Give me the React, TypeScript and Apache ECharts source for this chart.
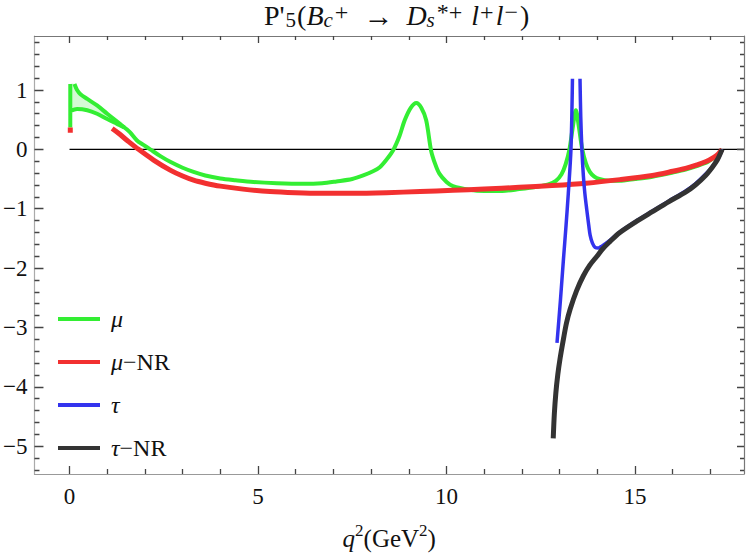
import React, { useEffect, useRef } from "react";
import * as echarts from "echarts";

const FONT = "Liberation Serif";

// axis ranges and ticks
const X_MIN = -0.93;
const X_MAX = 17.89;
const Y_MIN = -5.47;
const Y_MAX = 1.91;
const xMajor = [0, 5, 10, 15];
const xMinor = [1, 2, 3, 4, 6, 7, 8, 9, 11, 12, 13, 14, 16, 17];
const yMajor = [-5, -4, -3, -2, -1, 0, 1];
const yMinor: number[] = [];
for (let k = -27; k <= 9; k++) {
  if (k % 5 !== 0) yMinor.push(Math.round(k * 20) / 100);
}

// μ (green) : clipped stub at q² → 0, then lower branch and main curve
const muStub = [[0.02, 0.37], [0.02, 1.1]];
const muMain = [
  [0.03, 0.65], [0.2, 0.68], [0.47, 0.66], [0.73, 0.6], [1.0, 0.51], [1.26, 0.43], [1.45, 0.37],
  [1.6, 0.29], [1.79, 0.15], [1.95, 0.08], [2.14, 0.0], [2.4, -0.11], [2.67, -0.21], [3.0, -0.31],
  [3.29, -0.38], [3.6, -0.44], [4.0, -0.49], [4.4, -0.52], [4.88, -0.55], [5.5, -0.57], [6.2, -0.58],
  [6.7, -0.57], [7.08, -0.54], [7.5, -0.5], [7.79, -0.44], [8.05, -0.37], [8.23, -0.3], [8.4, -0.18],
  [8.58, -0.02], [8.75, 0.22], [8.89, 0.49], [9.05, 0.7], [9.2, 0.78], [9.33, 0.7], [9.46, 0.49],
  [9.59, -0.02], [9.7, -0.25], [9.81, -0.41], [10.0, -0.55], [10.17, -0.62], [10.61, -0.68],
  [11.0, -0.7], [11.48, -0.7], [11.93, -0.67], [12.4, -0.63], [12.7, -0.59], [12.9, -0.53],
  [13.05, -0.42], [13.16, -0.25], [13.26, 0.0], [13.35, 0.38], [13.43, 0.66], [13.51, 0.38],
  [13.6, 0.0], [13.7, -0.24], [13.8, -0.38], [13.92, -0.46], [14.05, -0.5], [14.3, -0.53],
  [14.58, -0.53], [15.0, -0.5], [15.46, -0.46], [16.0, -0.39], [16.34, -0.34], [16.87, -0.23],
  [17.1, -0.14], [17.22, -0.08], [17.31, 0.0],
];
// μ band at low q² (upper and lower branch)
const bandX = [0.03, 0.13, 0.2, 0.29, 0.47, 0.73, 1.0, 1.26, 1.45];
const bandLow = [0.65, 0.67, 0.68, 0.675, 0.66, 0.6, 0.51, 0.43, 0.37];
const bandHigh = [1.1, 1.1, 1.0, 0.93, 0.85, 0.74, 0.6, 0.47, 0.37];

// μ−NR (red)
const muNRStub = [[0.02, 0.37], [0.02, 0.28]];
const muNRMain = [
  [1.13, 0.35], [1.3, 0.27], [1.53, 0.15], [1.83, 0.0], [2.23, -0.18], [2.67, -0.35], [3.0, -0.45],
  [3.29, -0.52], [3.6, -0.57], [4.0, -0.62], [4.6, -0.67], [5.32, -0.71], [6.0, -0.73], [6.64, -0.74],
  [7.5, -0.74], [8.4, -0.73], [9.3, -0.71], [10.17, -0.69], [11.0, -0.67], [11.93, -0.64],
  [12.8, -0.61], [13.7, -0.57], [14.6, -0.51], [15.46, -0.44], [16.0, -0.37], [16.34, -0.32],
  [16.6, -0.27], [16.87, -0.21], [17.1, -0.13], [17.22, -0.07], [17.31, 0.0],
];

// τ (blue): two branches around the pole
const tauLeft = [
  [12.93, -3.26], [13.02, -2.55], [13.1, -1.86], [13.17, -1.28], [13.23, -0.74], [13.3, 0.0], [13.34, 1.19],
];
const tauRight = [
  [13.54, 1.19], [13.56, 0.55], [13.59, 0.0], [13.63, -0.45], [13.67, -0.75], [13.72, -1.02],
  [13.77, -1.27], [13.81, -1.45], [13.87, -1.58], [13.94, -1.65], [14.03, -1.66], [14.12, -1.63],
  [14.34, -1.53], [14.58, -1.4], [15.0, -1.22], [15.46, -1.04], [15.9, -0.87], [16.34, -0.7],
  [16.6, -0.58], [16.96, -0.36], [17.1, -0.25], [17.22, -0.14], [17.31, 0.0],
];

// τ−NR (black)
const tauNR = [
  [12.83, -4.87], [12.86, -4.45], [12.9, -4.1], [12.95, -3.8], [13.01, -3.53], [13.1, -3.2],
  [13.18, -2.93], [13.28, -2.69], [13.45, -2.38], [13.63, -2.13], [13.8, -1.95], [13.99, -1.8],
  [14.15, -1.67], [14.34, -1.55], [14.58, -1.41], [15.0, -1.23], [15.46, -1.05], [15.9, -0.88],
  [16.34, -0.72], [16.6, -0.6], [16.87, -0.44], [17.05, -0.3], [17.18, -0.18], [17.31, 0.0],
];

const legendNames = ["μ", "μ−NR", "τ", "τ−NR"];
const colors = { mu: "#33ee33", muNR: "#f23030", tau: "#3333ee", tauNR: "#333333" };

const minusFmt = (v: number) => (v < 0 ? "−" + Math.abs(v) : String(v));

const GRID = { left: 34, right: 3, top: 36, bottom: 81 };
const W = 747;
const H = 556;

export default function App() {
  const ref = useRef<HTMLDivElement>(null);
  useEffect(() => {
    if (!ref.current) return;
    const chart = echarts.init(ref.current, undefined, { renderer: "svg" });

    const bandPoly = [
      ...bandX.map((x, i) => [x, bandHigh[i]]),
      ...bandX.map((x, i) => [x, bandLow[i]]).reverse(),
    ];
    const upper = bandX.slice(1).map((x, i) => [x, bandHigh[i + 1]]);

    // tick lengths (px) expressed in axis units; one tick pair per data item
    const pw = W - GRID.left - GRID.right;
    const ph = H - GRID.top - GRID.bottom;
    const ux = (X_MAX - X_MIN) / pw;
    const uy = (Y_MAX - Y_MIN) / ph;
    const tickPairs: number[][][] = [];
    xMajor.concat(xMinor).forEach((v) => {
      const len = xMajor.indexOf(v) >= 0 ? 8 : 5;
      tickPairs.push([[v, Y_MIN], [v, Y_MIN + len * uy]]);
      tickPairs.push([[v, Y_MAX], [v, Y_MAX - (len - 1) * uy]]);
    });
    yMajor.concat(yMinor).forEach((v) => {
      const major = yMajor.indexOf(v) >= 0;
      tickPairs.push([[X_MIN, v], [X_MIN + (major ? 9 : 5) * ux, v]]);
      tickPairs.push([[X_MAX, v], [X_MAX - (major ? 7 : 4) * ux, v]]);
    });

    const xBase = { type: "value", min: X_MIN, max: X_MAX, splitLine: { show: false }, axisTick: { show: false } };
    const yBase = { type: "value", min: Y_MIN, max: Y_MAX, splitLine: { show: false }, axisTick: { show: false } };
    const frame = (color: string) => ({ show: true, onZero: false, lineStyle: { color, width: 1.2 } });

    const lineSeries = (name: string, data: any, color: string, width: number) => ({
      name,
      type: "line",
      data,
      showSymbol: false,
      symbol: "none",
      smooth: 0.3,
      connectNulls: false,
      lineStyle: { color, width, cap: "butt", join: "round" },
      itemStyle: { color },
      silent: true,
    });

    const sub = { fontFamily: FONT, fontSize: 21, lineHeight: 21, color: "#111", verticalAlign: "bottom" };
    const sup = { fontFamily: FONT, fontSize: 24, lineHeight: 24, color: "#111", verticalAlign: "top" };

    const option: any = {
      animation: false,
      backgroundColor: "#fff",
      textStyle: { fontFamily: FONT },
      title: {
        text:
          "{r|P'}{sub|5}{r|(}{i|B}{isub|c}{sup|+}{arr|→}{i|D}{isub|s}{sup|*+}{r| }{i|l}{sup|+}{i|l}{sup|−}{r|)}",
        left: 264,
        top: 0,
        padding: 0,
        textStyle: {
          fontFamily: FONT,
          fontSize: 28,
          fontWeight: "normal",
          color: "#111",
          rich: {
            r: { fontFamily: FONT, fontSize: 28, lineHeight: 30, color: "#111", verticalAlign: "middle" },
            i: { fontFamily: FONT, fontSize: 28, lineHeight: 30, fontStyle: "italic", color: "#111", verticalAlign: "middle" },
            arr: { fontFamily: FONT, fontSize: 30, lineHeight: 30, color: "#111", verticalAlign: "middle", padding: [0, 13, 0, 13] },
            sub: { ...sub, padding: [0, 1, 0, 1] },
            isub: { ...sub, fontStyle: "italic", padding: [0, 1, 0, 0] },
            sup: { ...sup, padding: [0, 2, 0, 1] },
          },
        },
      },
      legend: {
        data: legendNames,
        orient: "vertical",
        left: 53,
        top: 302,
        itemWidth: 42,
        itemHeight: 4,
        itemGap: 19,
        icon: "rect",
        selectedMode: false,
        formatter: (name: string) =>
          name.indexOf("NR") >= 0 ? `{g|${name.charAt(0)}}{n|−NR}` : `{g|${name}}`,
        textStyle: {
          fontFamily: FONT,
          fontSize: 24,
          lineHeight: 24,
          color: "#111",
          padding: [0, 0, 0, 6],
          rich: {
            g: { fontFamily: FONT, fontSize: 24, fontStyle: "italic", color: "#111" },
            n: { fontFamily: FONT, fontSize: 24, color: "#111" },
          },
        },
      },
      grid: { ...GRID, containLabel: false },
      xAxis: [
        {
          ...xBase,
          position: "bottom",
          axisLine: frame("#999"),
          axisLabel: { show: true, customValues: xMajor, fontFamily: FONT, fontSize: 23, color: "#111", margin: 11 },
          name: "{i|q}{sup|2}{r|(GeV}{sup|2}{r|)}",
          nameLocation: "middle",
          nameGap: 48,
          nameTextStyle: {
            fontFamily: FONT,
            fontSize: 24,
            color: "#111",
            rich: {
              i: { fontFamily: FONT, fontSize: 25, lineHeight: 25, fontStyle: "italic", color: "#111", verticalAlign: "bottom" },
              r: { fontFamily: FONT, fontSize: 25, lineHeight: 25, color: "#111", verticalAlign: "bottom" },
              sup: { fontFamily: FONT, fontSize: 17, lineHeight: 29, color: "#111", verticalAlign: "top" },
            },
          },
        },
        {
          ...xBase,
          position: "top",
          axisLine: frame("#777"),
          axisLabel: { show: false },
        },
      ],
      yAxis: [
        {
          ...yBase,
          position: "left",
          axisLine: frame("#aaa"),
          axisLabel: {
            show: true,
            customValues: yMajor,
            fontFamily: FONT,
            fontSize: 23,
            color: "#111",
            margin: 7,
            formatter: minusFmt,
          },
        },
        {
          ...yBase,
          position: "right",
          axisLine: frame("#777"),
          axisLabel: { show: false },
        },
      ],
      series: [
        {
          name: "zero",
          type: "line",
          data: [[0, 0], [X_MAX, 0]],
          symbol: "none",
          lineStyle: { color: "#000", width: 1.4 },
          silent: true,
        },
        {
          name: "frameTicks",
          type: "lines",
          coordinateSystem: "cartesian2d",
          silent: true,
          z: 10,
          data: tickPairs.map((c) => ({ coords: c })),
          lineStyle: { color: "#444", width: 1.3, opacity: 1 },
        },
        {
          name: "band",
          type: "custom",
          silent: true,
          data: bandPoly,
          renderItem: (params: any, api: any) => {
            if (params.dataIndex !== 0) return null;
            const pts = bandPoly.map((p) => api.coord(p));
            return {
              type: "polygon",
              shape: { points: pts, smooth: 0.3 },
              style: { fill: "rgba(60,230,60,0.22)", stroke: "none" },
            };
          },
        },
        lineSeries("μ", [...muStub, null, ...muMain], colors.mu, 4),
        lineSeries("μ", upper, colors.mu, 4),
        lineSeries("μ−NR", [...muNRStub, null, ...muNRMain], colors.muNR, 5),
        lineSeries("τ", [...tauLeft, null, ...tauRight], colors.tau, 3.5),
        lineSeries("τ−NR", tauNR, colors.tauNR, 5),
      ],
    };
    chart.setOption(option);

    return () => chart.dispose();
  }, []);
  return (
    <div
      ref={ref}
      style={{ position: "fixed", left: 0, top: 0, width: W, height: H, background: "#fff" }}
    />
  );
}
